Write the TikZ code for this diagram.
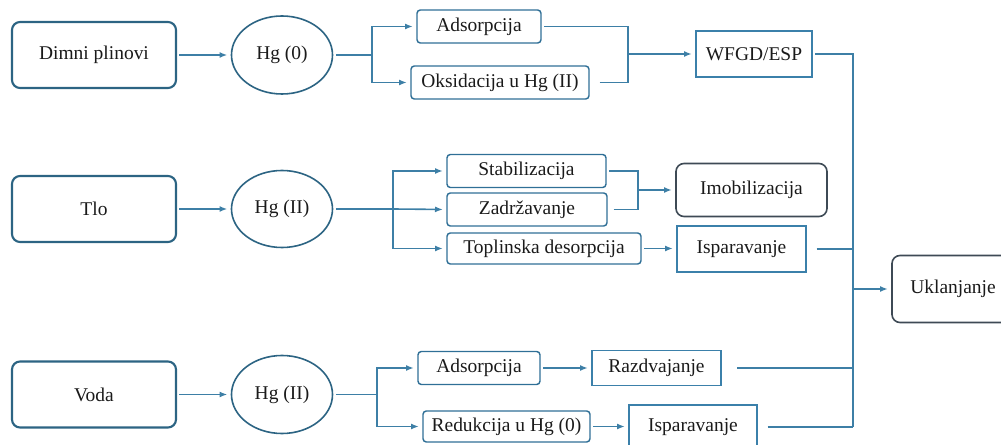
\documentclass[tikz,border=0pt]{standalone}
\usepackage{fontspec}
\setmainfont{Liberation Serif}
\usetikzlibrary{shapes.geometric,arrows.meta}
\definecolor{bigb}{HTML}{2C6483}
\definecolor{smb}{HTML}{2F6F96}
\definecolor{sqb}{HTML}{3B80AA}
\definecolor{grb}{HTML}{3E4A55}
\definecolor{lnc}{HTML}{3D7FA6}
\definecolor{txt}{HTML}{1A1A1A}
\tikzset{
  every node/.style={font=\rmfamily\fontsize{14.6}{16}\selectfont, text=txt, inner sep=0pt, outer sep=0pt},
  bigbox/.style={draw=bigb, line width=1.6pt, rounded corners=6pt, minimum width=#1*0.75pt, minimum height=66*0.75pt},
  ovalnode/.style={ellipse, draw=bigb, line width=1.2pt, minimum width=101*0.75pt, minimum height=78*0.75pt},
  smbox/.style={draw=smb, line width=1.1pt, rounded corners=2.5pt},
  sqbox/.style={draw=sqb, line width=1.2pt},
  grbox/.style={draw=grb, line width=1.2pt, rounded corners=6pt},
  conn/.style={draw=lnc, line width=1.2pt, shorten <=2.5pt},
  arr/.style={conn, -{Latex[length=6pt,width=4.5pt]}, shorten >=3pt},
  sz/.style 2 args={minimum width=#1*0.75pt, minimum height=#2*0.75pt}
}
\begin{document}
\begin{tikzpicture}[x=0.75pt,y=-0.75pt]
\useasboundingbox (0,0) rectangle (1001,445);
\clip (0,0) rectangle (1001,445);
% row 1
\node[bigbox=164] (dimni) at (94,55) {Dimni plinovi};
\node[ovalnode] (hg0) at (282,55) {Hg (0)};
\node[smbox, sz={124}{33}] (ads1) at (479,26.5) {Adsorpcija};
\node[smbox, sz={178}{33}] (oks) at (500,82.5) {Oksidacija u Hg (II)};
\node[sqbox, sz={116}{46}] (wfgd) at (754,54) {WFGD/ESP};
% row 2
\node[bigbox=164] (tlo) at (94,209) {Tlo};
\node[ovalnode, minimum height=77*0.75pt] (hg2a) at (282,209) {Hg (II)};
\node[smbox, sz={159}{33}] (stab) at (526.5,171) {Stabilizacija};
\node[smbox, sz={160}{33}] (zad) at (527,209.5) {Zadržavanje};
\node[smbox, sz={194}{31}] (topl) at (544,248.5) {Toplinska desorpcija};
\node[grbox, sz={151}{53}] (imob) at (751.5,190) {Imobilizacija};
\node[sqbox, sz={129}{46}] (isp1) at (741.5,249) {Isparavanje};
% row 3
\node[bigbox=164] (voda) at (94,394.5) {Voda};
\node[ovalnode] (hg2b) at (282,394.5) {Hg (II)};
\node[smbox, sz={122}{33}] (ads2) at (479,368) {Adsorpcija};
\node[sqbox, sz={129}{35}] (razd) at (656.5,368) {Razdvajanje};
\node[smbox, sz={167}{31}] (red) at (506.5,426.5) {Redukcija u Hg (0)};
\node[sqbox, sz={128}{44}] (isp2) at (693,427) {Isparavanje};
% right
\node[grbox, sz={122}{67}] (ukl) at (953,289) {Uklanjanje};
% coordinates
\coordinate (b1) at (372,55);
\coordinate (m1) at (628,54);
\coordinate (b2) at (393,209);
\coordinate (m2) at (638,190);
\coordinate (b3) at (377,394.5);
\coordinate (bt) at (853,54);
\coordinate (bb) at (853,427);
\coordinate (bm) at (853,289);
% connectors row 1
\draw[arr] (dimni) -- (hg0);
\draw[conn] (hg0.east) -- (b1);
\draw[arr, shorten <=0pt] (b1) |- (ads1.west);
\draw[arr, shorten <=0pt] (b1) |- (oks.west);
\draw[conn] (ads1.east) -| (m1);
\draw[conn, shorten <=8pt] (oks.east) -| (m1);
\draw[arr, shorten <=0pt] (m1) -- (wfgd.west);
\draw[conn] (wfgd.east) -- (bt) -- (bb);
% row 2
\draw[arr] (tlo) -- (hg2a);
\draw[conn] (hg2a.east) -- (b2);
\draw[arr, shorten <=0pt] (b2) |- (stab.west);
\draw[arr, shorten <=0pt] (b2) -- (zad.west);
\draw[arr, shorten <=0pt] (b2) |- (topl.west);
\draw[conn] (stab.east) -| (m2);
\draw[conn, shorten <=5pt] (zad.east) -| (m2);
\draw[arr, shorten <=0pt] (m2) -- (imob.west);
\draw[arr] (topl.east) -- (topl.east -| isp1.west);
\draw[conn, shorten <=8pt] (isp1.east) -- (isp1.east -| bt);
% row 3
\draw[arr] (voda) -- (hg2b);
\draw[conn] (hg2b.east) -- (b3);
\draw[arr, shorten <=0pt] (b3) |- (ads2.west);
\draw[arr, shorten <=0pt] (b3) |- (red.west);
\draw[arr] (ads2.east) -- (ads2.east -| razd.west);
\draw[arr] (red.east) -- (red.east -| isp2.west);
\draw[conn, shorten <=12pt] (razd.east) -- (razd.east -| bt);
\draw[conn, shorten <=8pt] (isp2.east) -- (bb);
% to Uklanjanje
\draw[arr, shorten <=0pt] (bm) -- (ukl.west);
\end{tikzpicture}
\end{document}
